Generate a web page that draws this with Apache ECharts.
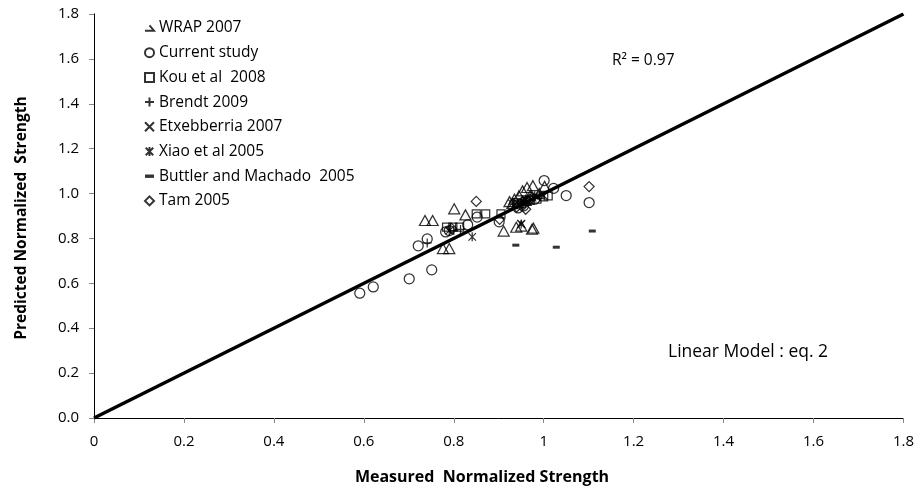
<!DOCTYPE html>
<html>
<head>
<meta charset="utf-8">
<script src="https://cdn.jsdelivr.net/npm/echarts@6/dist/echarts.min.js"></script>
<style>
  html, body { margin: 0; padding: 0; background: #fff; }
  #chart { width: 917px; height: 486px; }
</style>
</head>
<body>
<div id="chart"></div>
<script>
// Tick labels
const xTickLabels = ['0', '0.2', '0.4', '0.6', '0.8', '1', '1.2', '1.4', '1.6', '1.8'];
const yTickLabels = ['0.0', '0.2', '0.4', '0.6', '0.8', '1.0', '1.2', '1.4', '1.6', '1.8'];

// Measured vs predicted normalized strength, per source
const wrap2007 = [
  [0.736, 0.880], [0.753, 0.880], [0.801, 0.932], [0.826, 0.905], [0.776, 0.755],
  [0.790, 0.755], [0.911, 0.833], [0.939, 0.850], [0.950, 0.855], [0.974, 0.841],
  [0.977, 0.846], [0.924, 0.964], [0.953, 1.012], [0.963, 1.027], [0.976, 1.035],
  [1.002, 1.032], [0.935, 0.975], [0.945, 0.990], [0.990, 1.000], [0.930, 0.955],
  [0.960, 0.970], [0.970, 0.990]
];
const currentStudy = [
  [0.591, 0.556], [0.621, 0.584], [0.701, 0.620], [0.751, 0.660], [0.721, 0.767],
  [0.741, 0.798], [0.782, 0.829], [0.790, 0.835], [0.831, 0.861], [0.852, 0.895],
  [0.901, 0.874], [0.943, 0.936], [0.955, 0.945], [1.001, 1.058], [1.022, 1.023],
  [1.050, 0.991], [1.101, 0.960], [0.980, 0.975]
];
const kou2008 = [
  [0.784, 0.850], [0.798, 0.850], [0.813, 0.850], [0.850, 0.910], [0.871, 0.910],
  [0.905, 0.910], [0.940, 0.960], [0.960, 0.965], [0.985, 0.975], [1.000, 0.985],
  [0.950, 0.955], [0.970, 0.970], [1.010, 0.990]
];
const brendt2009 = [
  [0.741, 0.780], [0.800, 0.835], [0.815, 0.840], [0.950, 0.965], [0.970, 0.980],
  [0.990, 0.990], [0.960, 0.960]
];
const etxebberria2007 = [
  [0.950, 0.865], [0.960, 0.975], [0.985, 0.985], [0.930, 0.955], [0.940, 0.960], [1.000, 0.990]
];
const xiao2005 = [
  [0.841, 0.807], [0.950, 0.864], [0.790, 0.835], [0.980, 0.990], [0.960, 0.970]
];
const buttler2005 = [
  [0.938, 0.770], [1.028, 0.761], [1.108, 0.833]
];
const tam2005 = [
  [1.101, 1.031], [0.850, 0.965], [0.902, 0.885], [0.940, 0.940], [0.955, 0.950],
  [0.795, 0.845], [0.960, 0.930], [0.970, 0.975]
];
// Line of equality
const equalityLine = [[0, 0], [1.8, 1.8]];

const FONT = '"Open Sans", "Liberation Sans", sans-serif';
const PLUS = 'path://M5,0L5,10M0,5L10,5';
const CROSS = 'path://M0,0L10,10M10,0L0,10';
const STAR = 'path://M0,0L10,10M10,0L0,10M5,-1L5,11';
const HALF_TRI = 'path://M5,0L10,6L0,6';
const DASH = 'path://M0,0L8,0L8,3L0,3Z';

const hollow = { color: 'transparent', borderColor: '#000', borderWidth: 1.25 };

function scatter(name, data, symbol, size, style) {
  return {
    name: name,
    type: 'scatter',
    data: data,
    symbol: symbol,
    symbolSize: size,
    symbolKeepAspect: true,
    itemStyle: style || hollow,
    emphasis: { disabled: true },
    z: 3
  };
}

const chart = echarts.init(document.getElementById('chart'), null, { renderer: 'canvas' });

chart.setOption({
  animation: false,
  backgroundColor: '#fff',
  grid: { left: 94, right: 13, top: 14, bottom: 68 },
  xAxis: [{
    type: 'value', min: 0, max: 1.8, interval: 0.2,
    axisLine: { show: true, lineStyle: { color: '#868686', width: 1 } },
    axisTick: { show: true, inside: false, length: 5, lineStyle: { color: '#868686' } },
    axisLabel: {
      color: '#000', fontFamily: FONT, fontSize: 15, margin: 16,
      formatter: v => xTickLabels[Math.round(v / 0.2)]
    },
    splitLine: { show: false }
  }, {
    type: 'value', min: 0, max: 1.8, position: 'top',
    axisLine: { show: true, lineStyle: { color: '#000', width: 1 } },
    axisTick: { show: false }, axisLabel: { show: false }, splitLine: { show: false }
  }],
  yAxis: [{
    type: 'value', min: 0, max: 1.8, interval: 0.2,
    axisLine: { show: true, lineStyle: { color: '#868686', width: 1 } },
    axisTick: { show: true, inside: false, length: 5, lineStyle: { color: '#868686' } },
    axisLabel: {
      color: '#000', fontFamily: FONT, fontSize: 15, margin: 15,
      formatter: v => yTickLabels[Math.round(v / 0.2)]
    },
    splitLine: { show: false }
  }, {
    type: 'value', min: 0, max: 1.8, position: 'right',
    axisLine: { show: true, lineStyle: { color: '#000', width: 1 } },
    axisTick: { show: false }, axisLabel: { show: false }, splitLine: { show: false }
  }],
  legend: {
    orient: 'vertical', left: 139, top: 15,
    itemWidth: 9, itemHeight: 9, itemGap: 8.7,
    selectedMode: false,
    textStyle: { fontFamily: FONT, fontSize: 15.5, color: '#000', lineHeight: 16 },
    data: [
      { name: 'WRAP 2007', icon: HALF_TRI },
      { name: 'Current study', icon: 'circle' },
      { name: 'Kou et al  2008', icon: 'rect' },
      { name: 'Brendt 2009', icon: PLUS },
      { name: 'Etxebberria 2007', icon: CROSS },
      { name: 'Xiao et al 2005', icon: STAR },
      { name: 'Buttler and Machado  2005', icon: DASH },
      { name: 'Tam 2005', icon: 'diamond' }
    ]
  },
  graphic: [
    {
      type: 'text', x: 612, y: 61,
      style: { text: 'R² = 0.97', font: '15.5px ' + FONT, fill: '#000', verticalAlign: 'middle' }
    },
    {
      type: 'text', x: 668, y: 352,
      style: { text: 'Linear Model : eq. 2', font: '17.5px ' + FONT, fill: '#000', verticalAlign: 'middle' }
    },
    {
      type: 'text', x: 482, y: 477,
      style: { text: 'Measured  Normalized Strength', font: 'bold 16px ' + FONT, fill: '#000',
               align: 'center', verticalAlign: 'middle' }
    },
    {
      type: 'text', x: 22, y: 218, rotation: Math.PI / 2,
      style: { text: 'Predicted Normalized  Strength', font: 'bold 15.5px ' + FONT, fill: '#000',
               align: 'center', verticalAlign: 'middle' }
    }
  ],
  series: [
    scatter('WRAP 2007', wrap2007, 'triangle', [11, 10]),
    scatter('Current study', currentStudy, 'circle', 10),
    scatter('Kou et al  2008', kou2008, 'rect', 8),
    scatter('Brendt 2009', brendt2009, PLUS, 9),
    scatter('Etxebberria 2007', etxebberria2007, CROSS, 8),
    scatter('Xiao et al 2005', xiao2005, STAR, 9),
    scatter('Buttler and Machado  2005', buttler2005, 'rect', [7, 3],
      { color: '#000', borderColor: '#000', borderWidth: 0 }),
    scatter('Tam 2005', tam2005, 'diamond', 10),
    {
      name: 'equality', type: 'line', data: equalityLine,
      symbol: 'none', lineStyle: { color: '#000', width: 3.5 },
      emphasis: { disabled: true }, z: 4
    }
  ]
});
</script>
</body>
</html>
